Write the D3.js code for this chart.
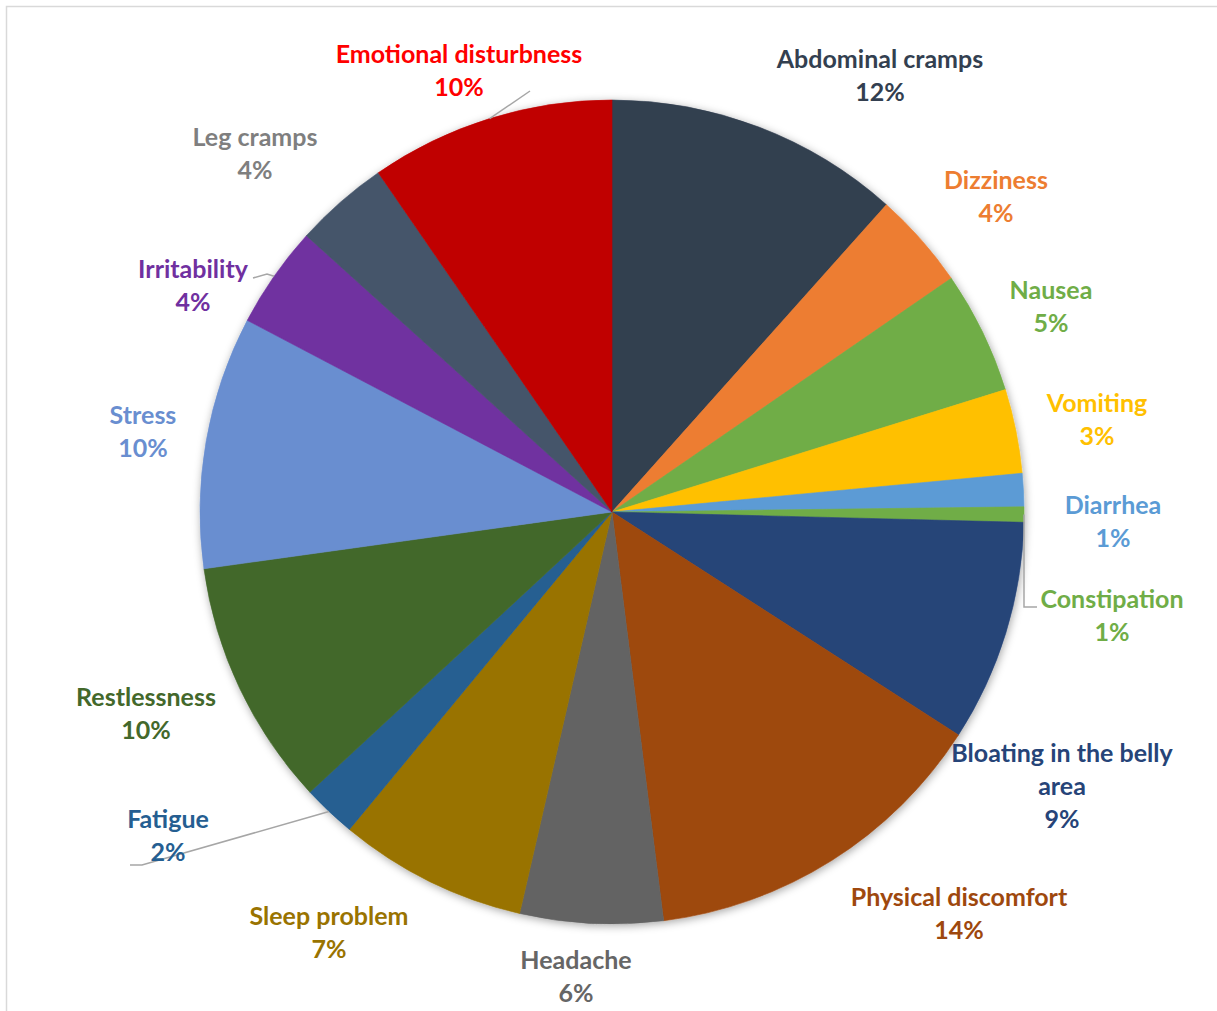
<!DOCTYPE html>
<html>
<head>
<meta charset="utf-8">
<script src="https://cdn.jsdelivr.net/npm/d3@7"></script>
<style>
  html, body { margin: 0; padding: 0; background: #ffffff; }
  svg { display: block; }
  text { font-family: Lato, "Open Sans", sans-serif; font-weight: 700; }
</style>
</head>
<body>
<svg id="chart" width="1217" height="1011"></svg>
<script>
// Reported symptoms, clockwise from 12 o'clock
const categories = [
  "Abdominal cramps", "Dizziness", "Nausea", "Vomiting", "Diarrhea",
  "Constipation", "Bloating in the belly area", "Physical discomfort",
  "Headache", "Sleep problem", "Fatigue", "Restlessness", "Stress",
  "Irritability", "Leg cramps", "Emotional disturbness"
];
// Share of respondents (%)
const values = [11.6, 3.8, 4.8, 3.3, 1.3, 0.6, 8.7, 13.9, 5.6, 7.4, 2.1, 9.7, 9.9, 4.0, 3.7, 9.6];

const sliceColors = [
  "#333f50", "#ed7d31", "#70ad47", "#ffc000", "#5b9bd5",
  "#70ad47", "#264478", "#9e480e", "#636363", "#997300",
  "#255e91", "#43682b", "#698ed0", "#7030a0", "#44546a", "#c00000"
];
const labelColors = [
  "#333f50", "#ed7d31", "#70ad47", "#ffc000", "#5b9bd5",
  "#70ad47", "#264478", "#9e480e", "#666666", "#997300",
  "#255e91", "#43682b", "#698ed0", "#7030a0", "#7f7f7f", "#ff0000"
];

// ---- layout ----
const W = 1217, H = 1011;
const cx = 612, cy = 512, R = 412;
const fontSize = 25, lineGap = 33;

// label block: centre x and baseline of first line
const labelPos = {
  "Abdominal cramps": [880, 68],
  "Dizziness": [996, 189],
  "Nausea": [1051, 299],
  "Vomiting": [1097, 412],
  "Diarrhea": [1113, 514],
  "Constipation": [1112, 608],
  "Bloating in the belly area": [1062, 762],
  "Physical discomfort": [959, 906],
  "Headache": [576, 969],
  "Sleep problem": [329, 925],
  "Fatigue": [168, 828],
  "Restlessness": [146, 706],
  "Stress": [143, 424],
  "Irritability": [193, 278],
  "Leg cramps": [255, 146],
  "Emotional disturbness": [459, 63]
};
const labelLines = {
  "Bloating in the belly area": ["Bloating in the belly", "area"]
};
// leader lines: bend points running from the pie edge out to the label
const leaders = {
  "Emotional disturbness": [[530, 91]],
  "Irritability": [[267, 274], [253, 278]],
  "Fatigue": [[142, 865], [130, 865]],
  "Constipation": [[1024, 607], [1037, 607]]
};

const svg = d3.select("#chart");

// chart frame
svg.append("rect")
  .attr("x", 6.5).attr("y", 6.5)
  .attr("width", W + 50).attr("height", H + 50)
  .attr("fill", "#ffffff")
  .attr("stroke", "#d9d9d9")
  .attr("stroke-width", 1.5);

// soft outer shadow of the pie
const defs = svg.append("defs");
const f = defs.append("filter").attr("id", "pieShadow")
  .attr("x", "-10%").attr("y", "-10%").attr("width", "120%").attr("height", "120%");
f.append("feDropShadow")
  .attr("dx", 1).attr("dy", 2)
  .attr("stdDeviation", 4)
  .attr("flood-color", "#000000")
  .attr("flood-opacity", 0.35);

const data = categories.map((c, i) => ({ name: c, value: values[i], i }));
const total = d3.sum(values);
const pct = d3.format(".0%");

const pie = d3.pie().value(d => d.value).sort(null);
const arcs = pie(data);
const arc = d3.arc().innerRadius(0).outerRadius(R);
const edge = d3.arc().innerRadius(R).outerRadius(R);

const g = svg.append("g").attr("transform", `translate(${cx},${cy})`);

const slices = g.append("g").attr("filter", "url(#pieShadow)");
slices.selectAll("path")
  .data(arcs)
  .join("path")
  .attr("d", arc)
  .attr("fill", d => sliceColors[d.data.i])
  .attr("stroke", d => sliceColors[d.data.i])
  .attr("stroke-width", 0.6);

// leader lines
arcs.forEach(a => {
  const pts = leaders[a.data.name];
  if (!pts) return;
  const [ex, ey] = edge.centroid(a);
  const path = [[cx + ex, cy + ey], ...pts];
  svg.append("path")
    .attr("d", d3.line()(path))
    .attr("fill", "none")
    .attr("stroke", "#a6a6a6")
    .attr("stroke-width", 1.5);
});

// data labels
arcs.forEach(a => {
  const name = a.data.name;
  const [lx, ly] = labelPos[name];
  const lines = (labelLines[name] || [name]).concat([pct(a.data.value / total)]);
  const t = svg.append("text")
    .attr("text-anchor", "middle")
    .attr("font-size", fontSize)
    .attr("fill", labelColors[a.data.i]);
  lines.forEach((s, k) => {
    t.append("tspan").attr("x", lx).attr("y", ly + k * lineGap).text(s);
  });
});
</script>
</body>
</html>
